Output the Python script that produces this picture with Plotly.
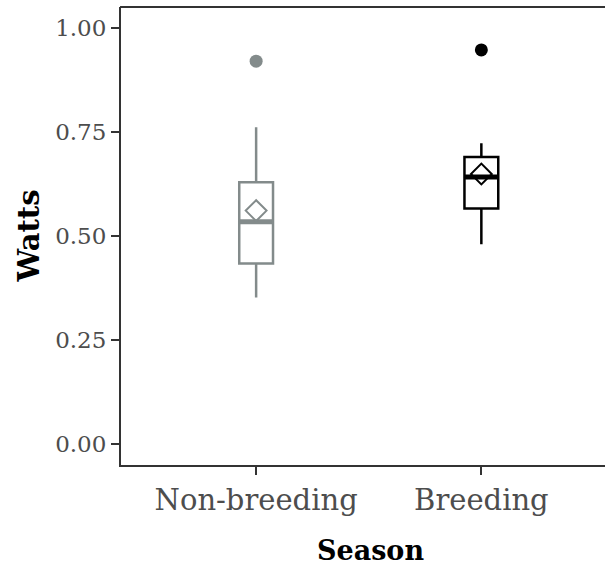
import plotly.graph_objects as go

# Seasonal power summaries (Watts)
seasons = ["Non-breeding", "Breeding"]
season_pos = [0, 1]
colors = ["#838B8B", "#000000"]

lower_whisker = [0.352, 0.480]
q1 = [0.434, 0.566]
median = [0.534, 0.642]
q3 = [0.629, 0.690]
upper_whisker = [0.761, 0.723]
means = [0.561, 0.649]
outliers = [0.920, 0.947]

y_ticks = [0.00, 0.25, 0.50, 0.75, 1.00]
y_tick_text = ["0.00", "0.25", "0.50", "0.75", "1.00"]

BOX_W = 0.15
SERIF = "DejaVu Serif"

fig = go.Figure()

for i, name in enumerate(seasons):
    x0 = season_pos[i]
    c = colors[i]
    fig.add_trace(go.Box(
        x=[x0], q1=[q1[i]], median=[median[i]], q3=[q3[i]],
        lowerfence=[lower_whisker[i]], upperfence=[upper_whisker[i]],
        width=BOX_W, whiskerwidth=0, boxpoints=False,
        line=dict(color=c, width=2.5), fillcolor="white",
        showlegend=False, hoverinfo="skip",
    ))
    # heavier median bar
    fig.add_trace(go.Scatter(
        x=[x0 - BOX_W / 2, x0 + BOX_W / 2], y=[median[i], median[i]],
        mode="lines", line=dict(color=c, width=5),
        showlegend=False, hoverinfo="skip",
    ))
    # mean marker
    fig.add_trace(go.Scatter(
        x=[x0], y=[means[i]], mode="markers",
        marker=dict(symbol="diamond-open", size=16, color=c,
                    line=dict(color=c, width=2)),
        showlegend=False, hoverinfo="skip",
    ))
    # outlier
    fig.add_trace(go.Scatter(
        x=[x0], y=[outliers[i]], mode="markers",
        marker=dict(symbol="circle", size=13, color=c),
        showlegend=False, hoverinfo="skip",
    ))

axis_line = "#333333"

fig.update_layout(
    width=605, height=569,
    margin=dict(l=121, r=0, t=7, b=104),
    paper_bgcolor="white", plot_bgcolor="white",
    font=dict(family=SERIF, color="#4D4D4D"),
    xaxis=dict(
        range=[-0.6, 1.549], tickvals=season_pos, ticktext=seasons,
        showgrid=False, zeroline=False,
        showline=True, linecolor=axis_line, linewidth=2, mirror=False,
        ticks="outside", ticklen=8, tickwidth=2, tickcolor=axis_line,
        tickfont=dict(family=SERIF, size=29, color="#4D4D4D"),
    ),
    yaxis=dict(
        range=[-0.05, 1.05], tickvals=y_ticks, ticktext=y_tick_text,
        showgrid=False, zeroline=False,
        showline=True, linecolor=axis_line, linewidth=2, mirror=False,
        ticks="outside", ticklen=8, tickwidth=2, tickcolor=axis_line,
        tickfont=dict(family=SERIF, size=23, color="#4D4D4D"),
    ),
    # top edge of the panel (no right edge: the panel runs off the page)
    shapes=[
        dict(type="line", xref="paper", yref="paper",
             x0=-0.002, x1=1.0, y0=1, y1=1,
             line=dict(color=axis_line, width=2)),
    ],
    annotations=[
        dict(text="<b>Season</b>", xref="paper", yref="paper",
             x=0.5148, y=-0.1856, xanchor="center", yanchor="middle",
             showarrow=False, font=dict(family=SERIF, size=27, color="black")),
        dict(text="<b>Watts</b>", xref="paper", yref="paper",
             x=-0.1893, y=0.5, xanchor="center", yanchor="middle",
             textangle=-90, showarrow=False,
             font=dict(family=SERIF, size=29, color="black")),
    ],
)

fig.write_html("out.html")
